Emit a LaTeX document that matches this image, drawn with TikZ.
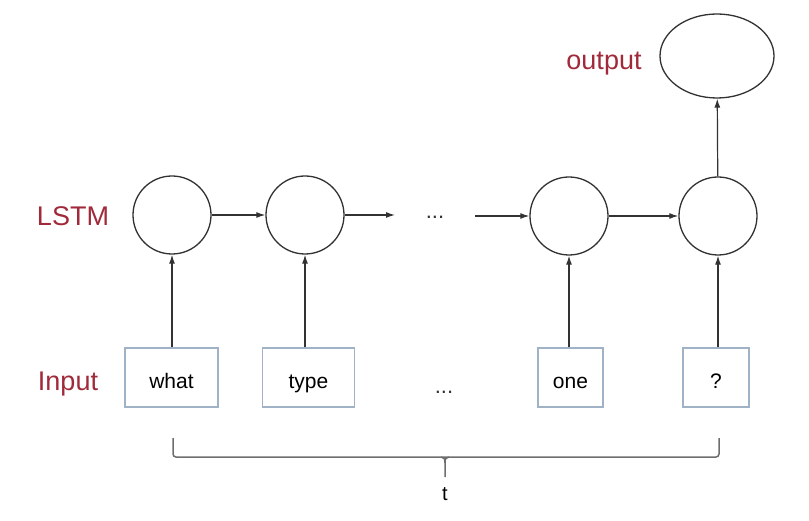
\documentclass[tikz,border=0pt]{standalone}
\usepackage{fontspec}
\setmainfont{Liberation Sans}
\usetikzlibrary{arrows.meta,shapes.geometric}
\definecolor{lblred}{RGB}{160,42,58}
\definecolor{boxedge}{RGB}{160,178,198}
\definecolor{inkgray}{RGB}{50,50,50}
\definecolor{bracegray}{RGB}{110,110,110}
\tikzset{
  cell/.style={circle, draw=inkgray, line width=1.3pt, minimum size=78pt, inner sep=0pt},
  outcell/.style={ellipse, draw=inkgray, line width=1.3pt, minimum width=114pt, minimum height=84pt, inner sep=0pt},
  inbox/.style={rectangle, draw=boxedge, line width=1.5pt, minimum height=59pt, inner sep=0pt, text height=22pt, text depth=0pt, font=\fontsize{21}{25}\selectfont},
  lbl/.style={text=lblred, font=\fontsize{27}{32}\selectfont, inner sep=0pt},
  conn/.style={draw=inkgray, line width=1.2pt, -{Latex[length=9pt,width=6pt]}},
  dotstxt/.style={text=inkgray, font=\fontsize{22}{26}\selectfont, inner sep=0pt, anchor=base},
  bracestyle/.style={draw=bracegray, line width=1.5pt},
}
\begin{document}
\begin{tikzpicture}[x=1pt,y=-1pt]
\useasboundingbox (0,0) rectangle (809,521);
% labels
\node[lbl] (lstmlbl) at (73,216) {LSTM};
\node[lbl] (inputlbl) at (68,384) {Input};
\node[lbl] (outputlbl) at (604,64) {output};
% cells
\node[cell] (c1) at (172,215) {};
\node[cell] (c2) at (305,215) {};
\node[cell] (c3) at (569,216) {};
\node[cell] (c4) at (718,216) {};
\node[outcell] (out) at (717,56) {};
% input boxes
\node[inbox, minimum width=93pt] (b1) at (171.5,377.5) {what};
\node[inbox, minimum width=92pt] (b2) at (308.5,377.5) {type};
\node[inbox, minimum width=65pt] (b3) at (570.5,377.5) {one};
\node[inbox, minimum width=66pt] (b4) at (716,377.5) {?};
% dots
\node[dotstxt] (dtop) at (435,219) {...};
\node[dotstxt] (dbot) at (444,394) {...};
\coordinate (h1) at (395,215);
\coordinate (h2) at (475,216);
% connectors
\draw[conn] (c1) -- (c2);
\draw[conn] (c2.east) -- (h1);
\draw[conn] (h2) -- (c3.west);
\draw[conn] (c3) -- (c4);
\draw[conn] (c4) -- (out);
\draw[conn] (c1.south |- b1.north) -- (c1.south);
\draw[conn] (c2.south |- b2.north) -- (c2.south);
\draw[conn] (c3.south |- b3.north) -- (c3.south);
\draw[conn] (c4.south |- b4.north) -- (c4.south);
% brace
\coordinate (brl) at (173,438);
\coordinate (brr) at (719,438);
\coordinate (brm) at (445,477);
\draw[bracestyle, rounded corners=3pt]
  (brl) -- (173,457) -- (brr |- 0,457) -- (brr);
\draw[bracestyle] (441,457) .. controls (444,457) and (445,459) .. (445,463) -- (brm);
\draw[bracestyle] (449,457) .. controls (446,457) and (445,459) .. (445,463);
\node[font=\fontsize{20}{24}\selectfont, inner sep=0pt] (tlbl) at (445,494) {t};
\end{tikzpicture}
\end{document}
